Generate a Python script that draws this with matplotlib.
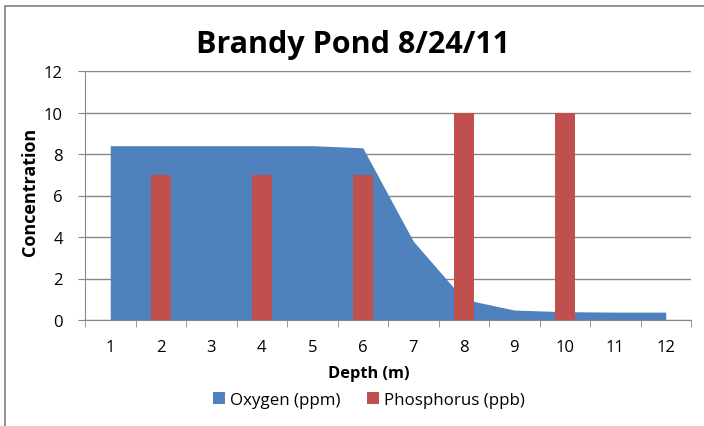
import numpy as np
import matplotlib.pyplot as plt
from matplotlib.patches import Rectangle

# data
depths = ['1', '2', '3', '4', '5', '6', '7', '8', '9', '10', '11', '12']
oxygen = [8.4, 8.4, 8.4, 8.4, 8.4, 8.3, 3.8, 1.0, 0.48, 0.4, 0.38, 0.38]
phos_depths = ['2', '4', '6', '8', '10']
phosphorus = [7, 7, 7, 10, 10]

blue = '#4F81BD'
red = '#C0504D'
grid_col = '#878787'

plt.rcParams['font.family'] = ['Open Sans', 'DejaVu Sans']

fig = plt.figure(figsize=(7.04, 4.27), dpi=100)
ax = fig.add_axes([85 / 704, 1 - 321 / 427, 606 / 704, 249 / 427])

# outer chart frame
fig.patches.append(Rectangle((5 / 704, -0.1), 1.2, 1 - 7 / 427 + 0.1, transform=fig.transFigure,
                             fill=False, edgecolor='#7f7f7f', linewidth=1.2))

x = np.arange(len(depths))
ax.fill_between(x, oxygen, 0, color=blue, linewidth=0, label='Oxygen (ppm)', zorder=2)
px = [depths.index(d) for d in phos_depths]
ax.bar(px, phosphorus, width=0.4, color=red, label='Phosphorus (ppb)', zorder=3)

ax.set_xlim(-0.5, len(depths) - 0.5)
ax.set_ylim(0, 12)
ax.set_yticks(range(0, 13, 2))
ax.set_xticks(x)
ax.set_xticklabels(depths)
ax.set_xticks(np.arange(-0.5, len(depths), 1), minor=True)
ax.tick_params(axis='x', which='major', length=0, pad=14, labelsize=12)
ax.tick_params(axis='x', which='minor', length=5, color=grid_col, direction='out')
ax.tick_params(axis='y', length=5, color=grid_col, labelsize=12, pad=11)

ax.grid(axis='y', color=grid_col, linewidth=1, zorder=0)
ax.set_axisbelow(True)
for s in ['top', 'right']:
    ax.spines[s].set_visible(False)
for s in ['left', 'bottom']:
    ax.spines[s].set_color(grid_col)

fig.text(369 / 704, 1 - 374 / 427, 'Depth (m)', ha='center', va='center',
         fontsize=11.8, fontweight='bold')
fig.text(30 / 704, 1 - 192 / 427, 'Concentration', ha='center', va='center', rotation=90,
         fontsize=13, fontweight='bold')
fig.text(353 / 704, 1 - 45 / 427, 'Brandy Pond 8/24/11', ha='center', va='center',
         fontsize=22, fontweight='bold')

ax.legend(loc='center', bbox_to_anchor=(369 / 704, 1 - 401 / 427), bbox_transform=fig.transFigure,
          ncol=2, frameon=False, fontsize=12.2, handlelength=0.7, handleheight=0.7,
          columnspacing=1.6, handletextpad=0.3)

fig.savefig('out.png', dpi=100)
